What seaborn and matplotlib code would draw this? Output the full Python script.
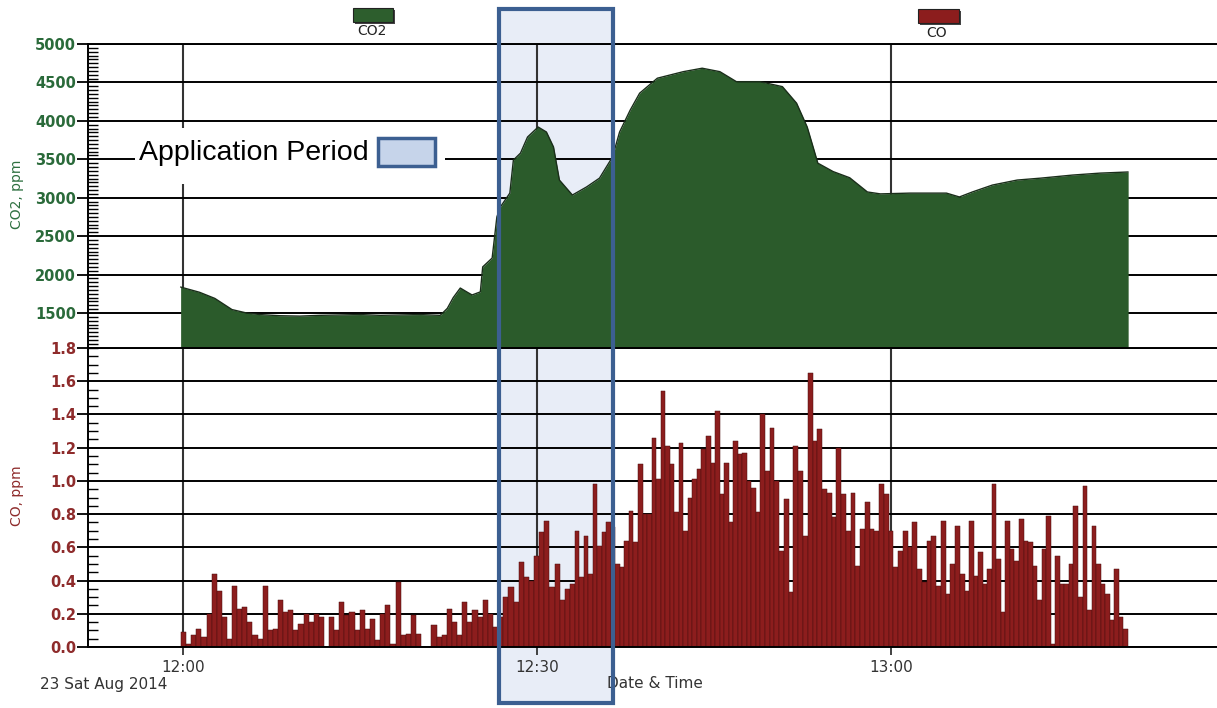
import numpy as np
import pandas as pd
import matplotlib
matplotlib.use("Agg")
import matplotlib.pyplot as plt
import matplotlib.transforms as mtransforms
from matplotlib.patches import Rectangle
from matplotlib.ticker import MultipleLocator, FormatStrFormatter
import seaborn as sns

# ---------------- data (minutes after 12:00) ----------------
co2_minutes = [-0.2, 1.4, 2.7, 4.15, 5.4, 6.5, 8.2, 9.9, 11.6, 13.3,
               15.0, 16.7, 18.4, 20.1, 21.8, 22.4, 22.9, 23.5, 24.1, 24.5,
               25.2, 25.4, 26.2, 26.6, 26.9, 27.7, 28.0, 28.6, 29.2, 30.1,
               30.8, 31.4, 31.9, 33.0, 34.2, 35.3, 36.4, 37.0, 37.9, 38.7,
               40.2, 42.4, 44.0, 45.5, 46.9, 48.9, 50.8, 52.0, 52.9, 53.4,
               53.8, 55.1, 56.5, 58.0, 59.1, 61.6, 64.7, 65.8, 66.9, 68.6,
               70.7, 72.7, 75.4, 77.7, 80.1]
co2_ppm = [1838, 1770, 1690, 1545, 1500, 1480, 1465, 1460, 1470, 1475,
           1480, 1470, 1475, 1480, 1470, 1560, 1700, 1825, 1770, 1735,
           1775, 2100, 2215, 2750, 2880, 3060, 3490, 3580, 3790, 3920,
           3855, 3660, 3230, 3035, 3140, 3255, 3530, 3855, 4140, 4360,
           4555, 4640, 4685, 4640, 4510, 4510, 4445, 4230, 3920, 3660,
           3450, 3340, 3260, 3075, 3050, 3060, 3060, 3010, 3075, 3165,
           3230, 3255, 3295, 3320, 3335]

# CO readings, in five consecutive time segments
co_segment_bounds = [-0.17, 16.27, 32.8, 49.32, 65.85, 80.08]
co_seg1 = [0.09, 0.02, 0.07, 0.11, 0.06, 0.20, 0.44, 0.34, 0.18, 0.05,
           0.37, 0.23, 0.24, 0.15, 0.07, 0.05, 0.37, 0.10, 0.11, 0.28,
           0.21, 0.22, 0.10, 0.14, 0.20, 0.15, 0.20, 0.18, 0.00, 0.18,
           0.10, 0.27, 0.19, 0.21, 0.10, 0.22, 0.11, 0.17]
co_seg2 = [0.04, 0.20, 0.25, 0.02, 0.39, 0.07, 0.08, 0.19, 0.08, 0.00,
           0.00, 0.13, 0.06, 0.07, 0.23, 0.15, 0.07, 0.27, 0.15, 0.22,
           0.18, 0.28, 0.20, 0.12, 0.18, 0.30, 0.36, 0.27, 0.51, 0.42,
           0.40, 0.55, 0.69, 0.76, 0.36, 0.50, 0.28, 0.35]
co_seg3 = [0.38, 0.70, 0.42, 0.67, 0.44, 0.98, 0.61, 0.69, 0.75, 0.72,
           0.50, 0.48, 0.64, 0.82, 0.63, 1.10, 0.80, 0.80, 1.26, 1.01,
           1.54, 1.21, 1.10, 0.81, 1.23, 0.70, 0.90, 1.01, 1.07, 1.19,
           1.27, 1.11, 1.42, 0.92, 1.11, 0.75, 1.24, 1.16, 1.17, 1.00,
           0.96, 0.81, 1.40]
co_seg4 = [1.06, 1.32, 1.00, 0.58, 0.89, 0.33, 1.21, 1.06, 0.67, 1.65,
           1.24, 1.31, 0.95, 0.93, 0.78, 1.20, 0.92, 0.70, 0.93, 0.49,
           0.71, 0.87, 0.71, 0.70, 0.98, 0.92, 0.70, 0.48, 0.58, 0.70,
           0.60, 0.75, 0.47, 0.39, 0.64, 0.67, 0.37, 0.76, 0.32, 0.50,
           0.73]
co_seg5 = [0.44, 0.34, 0.76, 0.43, 0.57, 0.38, 0.47, 0.98, 0.53, 0.21,
           0.76, 0.59, 0.52, 0.77, 0.64, 0.63, 0.49, 0.28, 0.59, 0.79,
           0.02, 0.55, 0.38, 0.38, 0.50, 0.85, 0.30, 0.97, 0.22, 0.73,
           0.50, 0.38, 0.32, 0.16, 0.47, 0.18, 0.11]
co_segments = [co_seg1, co_seg2, co_seg3, co_seg4, co_seg5]

co2_ticks = [1500, 2000, 2500, 3000, 3500, 4000, 4500, 5000]
co_ticks = [0.0, 0.2, 0.4, 0.6, 0.8, 1.0, 1.2, 1.4, 1.6, 1.8]
x_tick_minutes = [0, 30, 60]
x_tick_labels = ["12:00", "12:30", "13:00"]
application_start, application_end = 26.8, 36.45   # minutes after 12:00

# ---------------- style ----------------
sns.set_style("ticks")
plt.rcParams["font.family"] = ["DejaVu Sans"]

GREEN = "#2b5b2b"
GREEN_TXT = "#2a6a3a"
RED = "#8c1d1d"
RED_TXT = "#8e2b2b"
BLUE_EDGE = "#3c5f91"

W, H = 1217, 708
def fx(px): return px / W
def fy(py): return 1 - py / H

fig = plt.figure(figsize=(W / 100, H / 100), dpi=100)
fig.patch.set_facecolor("white")
L = fx(88)
top_b, mid_b, bot_b = fy(44), fy(348), fy(647)
ax_top = fig.add_axes([L, mid_b, 1 - L, top_b - mid_b])
ax_bot = fig.add_axes([L, bot_b, 1 - L, mid_b - bot_b])

# ---------------- CO2 area ----------------
co2_df = pd.DataFrame({"minute": co2_minutes, "ppm": co2_ppm})
ax_top.fill_between(co2_df["minute"], co2_df["ppm"], 0, color=GREEN, lw=0, zorder=1)
sns.lineplot(data=co2_df, x="minute", y="ppm", ax=ax_top, color="#1a2e1a", lw=1.0, zorder=2)

# ---------------- CO bars ----------------
edges = [co_segment_bounds[0]]
values = []
for i, seg in enumerate(co_segments):
    e = np.linspace(co_segment_bounds[i], co_segment_bounds[i + 1], len(seg) + 1)
    edges.extend(float(v) for v in e[1:])
    values.extend(seg)
edges_arr = np.array(edges)
co_df = pd.DataFrame({"minute": (edges_arr[:-1] + edges_arr[1:]) / 2, "ppm": values})
try:
    sns.histplot(data=co_df, x="minute", weights="ppm", bins=edges, ax=ax_bot, color=RED,
                 edgecolor="#4a0e0e", linewidth=0.35, alpha=1.0, zorder=1)
except Exception:
    ax_bot.bar(co_df["minute"], co_df["ppm"], width=np.diff(edges_arr), color=RED,
               edgecolor="#4a0e0e", linewidth=0.35, zorder=1)

# ---------------- axes styling ----------------
xlim = (-8.05, 87.63)
for ax in (ax_top, ax_bot):
    ax.set_facecolor("none")
    ax.set_xlim(*xlim)
    ax.set_xlabel("")
    ax.set_ylabel("")
    ax.set_axisbelow(True)
    ax.set_xticks(x_tick_minutes)
    ax.grid(axis="y", color="black", lw=1.4)
    ax.grid(axis="x", color="#333333", lw=1.5)
    ax.spines["right"].set_visible(False)
    for s in ("left", "top", "bottom"):
        ax.spines[s].set_color("black")
        ax.spines[s].set_linewidth(1.4)

ax_top.set_ylim(1045, 5000)
ax_top.set_yticks(co2_ticks)
ax_top.yaxis.set_minor_locator(MultipleLocator(50))
ax_top.spines["bottom"].set_visible(False)
ax_top.tick_params(axis="x", length=0, labelbottom=False)

ax_bot.set_ylim(0, 1.8)
ax_bot.set_yticks(co_ticks)
ax_bot.yaxis.set_major_formatter(FormatStrFormatter("%.1f"))
ax_bot.yaxis.set_minor_locator(MultipleLocator(0.05))
ax_bot.set_xticklabels(x_tick_labels)
ax_bot.tick_params(axis="x", direction="out", length=6, width=1.3,
                   color="#333333", labelsize=11, labelcolor="#333333", pad=3)

for ax, col in ((ax_top, GREEN_TXT), (ax_bot, RED_TXT)):
    ax.tick_params(axis="y", which="major", direction="out", length=8, width=1.3,
                   color="black", labelsize=10.5, labelcolor=col, pad=0.5)
    ax.tick_params(axis="y", which="minor", direction="in", length=7, width=1.0,
                   color="black")
    for lab in ax.get_yticklabels():
        lab.set_fontweight("bold")

# ---------------- application period box ----------------
trans = mtransforms.blended_transform_factory(ax_bot.transData, fig.transFigure)
fig.add_artist(Rectangle((application_start, fy(703)), application_end - application_start,
                         fy(9) - fy(703), transform=trans, facecolor="#e8edf7",
                         edgecolor="none", zorder=-1))
fig.add_artist(Rectangle((application_start, fy(703)), application_end - application_start,
                         fy(9) - fy(703), transform=trans, facecolor="none",
                         edgecolor=BLUE_EDGE, lw=3.0, zorder=6))

# annotation "Application Period"
fig.add_artist(Rectangle((fx(135), fy(184)), fx(445) - fx(135), fy(128) - fy(184),
                         transform=fig.transFigure, facecolor="white",
                         edgecolor="none", zorder=3))
fig.text(fx(139), fy(153), "Application Period", ha="left", va="center",
         fontsize=20.5, family=["Liberation Sans", "DejaVu Sans"], color="black", zorder=4)
fig.add_artist(Rectangle((fx(378), fy(166)), fx(435) - fx(378), fy(138) - fy(166),
                         transform=fig.transFigure, facecolor="#c6d4ea",
                         edgecolor=BLUE_EDGE, lw=2.5, zorder=4))

# ---------------- legend ----------------
for x0, x1, y0, y1, col in ((353, 393, 8, 22, "#2d5e2d"), (918, 959, 9, 23, RED)):
    fig.add_artist(Rectangle((fx(x0 + 2), fy(y1 + 2)), fx(x1) - fx(x0), fy(y0) - fy(y1),
                             transform=fig.transFigure, facecolor="#444444",
                             edgecolor="none", zorder=3.5))
    fig.add_artist(Rectangle((fx(x0), fy(y1)), fx(x1) - fx(x0), fy(y0) - fy(y1),
                             transform=fig.transFigure, facecolor=col,
                             edgecolor="#222222", lw=0.8, zorder=4))
fig.text(fx(372), fy(31), "CO2", ha="center", va="center", fontsize=10, color="#222222")
fig.text(fx(937), fy(33), "CO", ha="center", va="center", fontsize=10, color="#222222")

# ---------------- axis titles ----------------
fig.text(fx(17), fy(194), "CO2, ppm", rotation=90, ha="center", va="center",
         fontsize=10, color="#2e7040")
fig.text(fx(17), fy(496), "CO, ppm", rotation=90, ha="center", va="center",
         fontsize=10, color=RED_TXT)
fig.text(fx(104), fy(684), "23 Sat Aug 2014", ha="center", va="center",
         fontsize=11, color="#333333")
fig.text(fx(655), fy(683), "Date & Time", ha="center", va="center",
         fontsize=11, color="#333333")

fig.savefig("out.png", dpi=100, facecolor="white")
